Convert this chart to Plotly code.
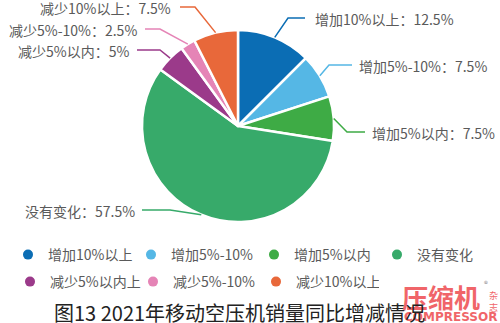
import math
import plotly.graph_objects as go

# ---- data ----
categories = ["增加10%以上", "增加5%-10%", "增加5%以内", "没有变化",
              "减少5%以内", "减少5%-10%", "减少10%以上"]
legend_names = ["增加10%以上", "增加5%-10%", "增加5%以内", "没有变化",
                "减少5%以内上", "减少5%-10%", "减少10%以上"]
values = [12.5, 7.5, 7.5, 57.5, 5, 2.5, 7.5]
colors = ["#0b6db4", "#55b7e5", "#3eab45", "#37aa6a",
          "#9b3a8a", "#e584b6", "#e8683a"]
title_text = "图13 2021年移动空压机销量同比增减情况"

# ---- layout constants (pixels) ----
W, H = 500, 323
cx, cy, r = 238, 126, 96
FONT = "Noto Sans CJK SC, Noto Sans, sans-serif"
TXT = "#5a5a5a"

def px(x):
    return x / W

def py(y):
    return 1 - y / H

# label layout: elbow (x, y), end x, text x, anchor
label_layout = [
    (288, 18, 305, 313, "left"),
    (329, 65, 352, 357, "left"),
    (347, 132, 365, 370, "left"),
    (170, 210, 142, 137, "right"),
    (160, 50, 137, 131, "right"),
    (160, 29, 145, 139, "right"),
    (195, 7, 180, 173, "right"),
]

fig = go.Figure()
fig.add_trace(go.Pie(
    labels=categories, values=values, sort=False, direction="clockwise",
    rotation=0, textinfo="none", hoverinfo="label+percent",
    marker=dict(colors=colors, line=dict(color="white", width=2.5)),
    domain=dict(x=[px(cx - r), px(cx + r)], y=[py(cy + r), py(cy - r)]),
    showlegend=False,
))

# legend via dummy scatter traces (circle markers), two rows
for i, (name, col) in enumerate(zip(legend_names, colors)):
    fig.add_trace(go.Scatter(
        x=[None], y=[None], mode="markers", name=name,
        marker=dict(color=col, size=10, symbol="circle"),
        legend="legend" if i < 4 else "legend2",
    ))

shapes = []
annotations = []
total = sum(values)
cum = 0
for v, cat, col, lay in zip(values, categories, colors, label_layout):
    mid = (cum + v / 2) / total
    cum += v
    th = 2 * math.pi * mid
    ex, ey = cx + r * math.sin(th), cy - r * math.cos(th)
    elx, ely, endx, tx, anc = lay
    shapes.append(dict(
        type="path", xref="paper", yref="paper",
        path=f"M {px(ex)} {py(ey)} L {px(elx)} {py(ely)} L {px(endx)} {py(ely)}",
        line=dict(color=col, width=1.5),
    ))
    annotations.append(dict(
        text=f"{cat}：{v:g}%", x=px(tx), y=py(ely + 1), xref="paper", yref="paper",
        xanchor=anc, yanchor="middle", showarrow=False,
        font=dict(family=FONT, size=14, color=TXT),
    ))

# magazine logo (behind title)
RED = "#ee4b4f"
annotations += [
    dict(text="<b>COMPRESSOR</b>", x=px(450), y=py(317), xref="paper", yref="paper",
         xanchor="center", yanchor="middle",
         showarrow=False, font=dict(family="DejaVu Sans, sans-serif", size=12, color=RED),
         opacity=0.85),
    dict(text="<b>压缩机</b>", x=px(441), y=py(296), xref="paper", yref="paper",
         xanchor="center", yanchor="middle",
         showarrow=False, font=dict(family=FONT, size=26, color=RED), opacity=0.85),
    dict(text="杂<br>志", x=px(493), y=py(301), xref="paper", yref="paper",
         xanchor="center", yanchor="middle",
         showarrow=False, font=dict(family=FONT, size=9, color=RED), opacity=0.85),
    dict(text="®", x=px(486), y=py(283), xref="paper", yref="paper",
         xanchor="center", yanchor="middle",
         showarrow=False, font=dict(family=FONT, size=8, color="#888888")),
]
# title
annotations.append(dict(
    text=title_text, x=px(239), y=py(312), xref="paper", yref="paper",
    xanchor="center", yanchor="middle", showarrow=False,
    font=dict(family=FONT, size=20, color="#222222"),
))

legend_common = dict(orientation="h", xanchor="left", yanchor="middle",
                     entrywidth=78, entrywidthmode="pixels",
                     font=dict(family=FONT, size=14, color=TXT),
                     bgcolor="rgba(0,0,0,0)", itemwidth=30)

fig.update_layout(
    width=W, height=H, margin=dict(l=0, r=0, t=0, b=0),
    paper_bgcolor="white", plot_bgcolor="white",
    xaxis=dict(visible=False), yaxis=dict(visible=False),
    shapes=shapes, annotations=annotations,
    legend=dict(x=px(10), y=py(255), **legend_common),
    legend2=dict(x=px(10), y=py(282), **legend_common),
)

fig.write_html("out.html")
